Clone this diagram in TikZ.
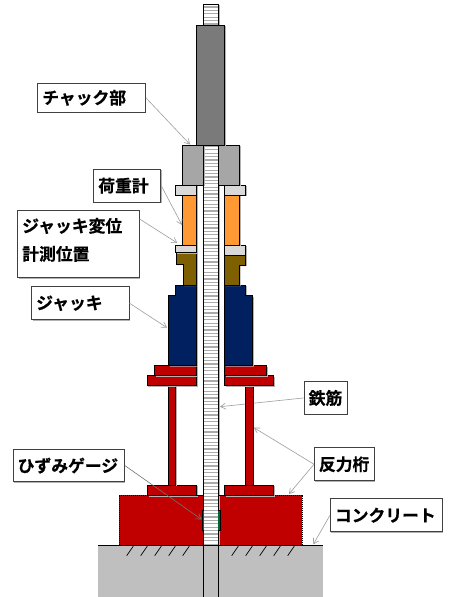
\documentclass[tikz,border=0pt]{standalone}
\usepackage{fontspec}
\setmainfont{Noto Sans CJK JP}[BoldFont=* Bold,BoldFeatures={FakeBold=0.5}]
\usetikzlibrary{arrows.meta,shadows,positioning}
\definecolor{cred}{HTML}{C00000}
\definecolor{cnavy}{HTML}{002060}
\definecolor{corange}{HTML}{FF9933}
\definecolor{cbrown}{HTML}{7F6000}
\definecolor{cgreen}{HTML}{006633}
\definecolor{cdark}{HTML}{7A7A7A}
\definecolor{cmid}{HTML}{A6A6A6}
\definecolor{clight}{HTML}{D9D9D9}
\definecolor{cground}{HTML}{BFBFBF}
\tikzset{
  part/.style={draw=black,line width=0.9pt,line join=miter,fill=#1,
    general shadow={shadow xshift=1.2pt,shadow yshift=-1.2pt,fill=black!30}},
  lab/.style={draw=black!75,line width=0.9pt,fill=white,anchor=north west,align=left,
    inner xsep=4.5pt,inner ysep=0pt,text width=#1-9pt,
    font=\fontsize{16.8}{28}\selectfont\bfseries,
    general shadow={shadow xshift=0.8pt,shadow yshift=-0.8pt,fill=black!30}},
  lead/.style={draw=black!38,line width=0.6pt,-{Straight Barb[length=5pt,width=6pt]}},
  gaugelead/.style={draw=black!55,line width=0.6pt,-{Straight Barb[length=5pt,width=6pt]}}
}
\begin{document}
\begin{tikzpicture}[x=1pt,y=-1pt]
\useasboundingbox (0,0) rectangle (456,597);
\fill[white] (0,0) rectangle (456,597);
% labels
\node[lab=107.7pt,minimum height=29.3pt] (chuck) at (37.3,82.7) {チャック部};
\node[lab=67pt,minimum height=33pt] (load) at (93.3,168.7) {荷重計};
\node[lab=121.4pt,minimum height=67.3pt] (disp) at (17.3,210) {ジャッキ変位\\計測位置\rule[-10pt]{0pt}{0pt}};
\node[lab=97.4pt,minimum height=33pt] (jack) at (31.3,286.3) {ジャッキ};
\node[lab=43pt,minimum height=33pt] (rebar) at (303.7,381) {鉄筋};
\node[lab=59.7pt,minimum height=33pt] (beam) at (314,447.3) {反力桁};
\node[lab=111.7pt,minimum height=33pt] (conc) at (330,498.3) {コンクリート};
\node[lab=111.3pt,minimum height=32.3pt] (gauge) at (12.7,449) {ひずみゲージ};
% target points
\coordinate (tchuck) at (190,144.5);
\coordinate (tload) at (182,225);
\coordinate (tdisp) at (177.3,243);
\coordinate (tjack) at (167,327.7);
\coordinate (trebar) at (220,406.7);
\coordinate (tweb) at (254,427.7);
\coordinate (tblock) at (289,494);
\coordinate (tground) at (313.3,544.3);
\coordinate (tgauge) at (201.7,519.5);
% ground
\fill[cground] (98.3,545.3) rectangle (322.7,597);
\draw[black,line width=0.9pt] (98.3,545.3) -- (322.7,545.3);
\foreach \x in {126.7,140.7,154.7,168.7,182.7,231.7,245.7,259.7,273.7,287.7}
  \draw[black,line width=0.7pt] (\x,555.7) -- (\x+6.7,546);
% concrete block
\fill[cred] (119.3,495) rectangle (203.5,545.3);
\fill[cred] (218,495) rectangle (302,545.3);
\draw[black,line width=0.8pt,dash pattern=on 1pt off 1pt] (119.3,545.3) -- (119.3,495) -- (147,495);
\draw[black,line width=0.8pt,dash pattern=on 1pt off 1pt] (302,545.3) -- (302,495) -- (273.7,495);
% threaded rod
\fill[black!30] (218,5) rectangle (220,545.3);
\fill[white] (203.5,5) rectangle (218,545.3);
\foreach \y in {7,10.4,...,545}
  \draw[black!33,line width=1.3pt] (203.5,\y) -- (218,\y);
\draw[black,line width=0.9pt] (203.5,545.3) -- (203.5,4.7) -- (218,4.7) -- (218,545.3);
\draw[black,line width=0.9pt] (203.5,545.3) -- (203.5,597);
\draw[black,line width=0.9pt] (218,545.3) -- (218,597);
% strain gauge
\draw[black,line width=0.8pt,fill=cgreen] (203.5,510) -- (202,510) -- (202,530.3) -- (203.5,530.3);
\draw[black,line width=0.8pt,fill=cgreen] (218,510) -- (220.3,510) -- (220.3,530.3) -- (218,530.3);
% rebar leader passes behind the web
\draw[lead] (rebar.west) -- (trebar);
% reaction beams
\draw[part=cred] (147.3,485) rectangle (196.7,495.3);
\draw[part=cred] (224.7,485) rectangle (273.7,495.3);
\draw[part=cred] (168.3,385.7) rectangle (175.7,485);
\draw[part=cred] (245.7,385.7) rectangle (253,485);
\draw[part=cred] (147,375.7) rectangle (196.7,385.7);
\draw[part=cred] (224.7,375.7) rectangle (273.7,385.7);
\draw[part=cred] (154.3,365.3) rectangle (196.7,375.7);
\draw[part=cred] (224.7,365.3) rectangle (266.7,375.7);
% block top beside the rod
\draw[black,line width=0.9pt] (147.3,495.2) -- (203.5,495.2);
\draw[black,line width=0.9pt] (218,495.2) -- (273.7,495.2);
% jack
\draw[part=cnavy] (175.7,285) -- (196.7,285) -- (196.7,365.3) -- (168.7,365.3) -- (168.7,295.7) -- (175.7,295.7) -- cycle;
\draw[part=cnavy] (224.7,285) -- (245.7,285) -- (245.7,295.7) -- (252.7,295.7) -- (252.7,365.3) -- (224.7,365.3) -- cycle;
% brown pieces
\draw[part=cbrown] (176,252.7) -- (196.7,252.7) -- (196.7,285) -- (183,285) -- (183,264) -- (176,264) -- cycle;
\draw[part=cbrown] (224.7,255) -- (245.7,255) -- (245.7,265) -- (239.3,265) -- (239.3,285) -- (224.7,285) -- cycle;
% plates
\draw[part=clight] (175.7,245) rectangle (196.7,252.7);
\draw[part=clight] (224.7,245) rectangle (245.7,255);
% load cell
\draw[part=corange] (182.7,195) rectangle (196.7,245);
\draw[part=corange] (224.7,195) rectangle (239.3,245);
\draw[part=clight] (175.7,185) rectangle (196.7,195);
\draw[part=clight] (224.7,185) rectangle (245.7,195);
% chuck
\draw[part=cmid] (182.7,145) rectangle (203.5,185);
\draw[part=cmid] (218,145) rectangle (239.3,185);
\draw[part=cdark] (196.7,25) rectangle (224.7,145);
% leaders
\draw[lead] (chuck.east) -- (tchuck);
\draw[lead] (load.east) -- (tload);
\draw[lead] (disp.east |- 0,219) -- (tdisp);
\draw[lead] (jack.east) -- (tjack);
\draw[lead] (beam.west) -- (tweb);
\draw[lead] (beam.west) -- (tblock);
\draw[lead] (conc.west) -- (tground);
\draw[gaugelead] (gauge.east) -- (tgauge);
\end{tikzpicture}
\end{document}
